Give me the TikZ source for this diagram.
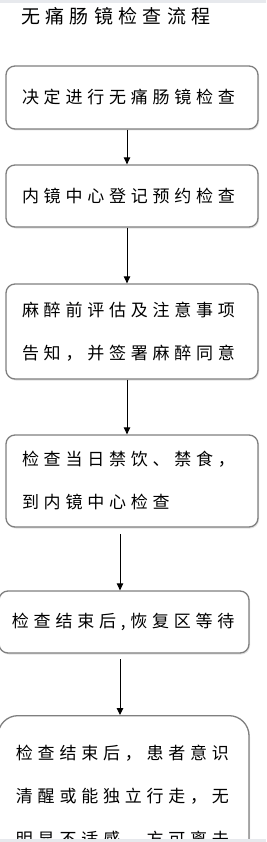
\documentclass[tikz,border=0pt]{standalone}
\usepackage{fontspec}
\newfontfamily\cjk[LetterSpace=28]{Noto Sans CJK SC}
\usetikzlibrary{arrows.meta,shadows}
\definecolor{Edge}{HTML}{7F7F7F}
\definecolor{Band}{HTML}{E7E9ED}
\definecolor{Shade}{HTML}{C4C4C4}

\begin{document}
\begin{tikzpicture}[x=1pt,y=-1pt,
    stepbox/.style={draw=Edge,line width=1.3pt,rounded corners=9pt,fill=white,
      drop shadow={shadow xshift=1pt,shadow yshift=-1.5pt,fill=Shade},
      font=\cjk\fontsize{17}{43}\selectfont,align=left,
      inner xsep=16pt,text width=220pt},
    flow/.style={-{Triangle[length=7pt,width=6.5pt]},line width=1pt}]
  \useasboundingbox (0,0) rectangle (266,842);
  \clip (0,0) rectangle (266,842);
  \fill[Band] (0,0) rectangle (266,3);
  \node[anchor=west,font=\cjk\fontsize{19}{21}\selectfont,inner sep=0pt] (title) at (21,16.5) {无痛肠镜检查流程};
  % steps
  \node[stepbox,minimum height=63pt] (b1) at (132,97.5) {决定进行无痛肠镜检查};
  \node[stepbox,minimum height=62pt] (b2) at (132,196) {内镜中心登记预约检查};
  \node[stepbox,minimum height=95pt] (b3) at (132,331.5) {麻醉前评估及注意事项\\告知，并签署麻醉同意};
  \node[stepbox,minimum height=92pt] (b4) at (132,481) {检查当日禁饮、禁食，\\到内镜中心检查};
  \node[stepbox,minimum height=62pt,inner xsep=13pt,text width=224pt] (b5) at (124,622) {检查结束后,恢复区等待};
  \node[stepbox,anchor=north,rounded corners=20pt,inner xsep=18pt,inner ysep=29pt,text width=215pt] (b6) at (123.5,715)
    {检查结束后，患者意识\\清醒或能独立行走，无\\明显不适感，方可离去};
  % arrows
  \draw[flow] ([xshift=-5pt]b1.south) -- ([xshift=-5pt]b2.north);
  \draw[flow] ([xshift=-5pt]b2.south) -- ([xshift=-5pt]b3.north);
  \draw[flow] ([xshift=-5pt]b3.south) -- ([xshift=-5pt]b4.north);
  \coordinate (c4) at (120,534);
  \draw[flow] (c4) -- (c4 |- b5.north);
  \coordinate (c5) at (120,659);
  \draw[flow] (c5) -- (c5 |- b6.north);
  \fill[Band] (0,839) rectangle (266,842);
\end{tikzpicture}
\end{document}
